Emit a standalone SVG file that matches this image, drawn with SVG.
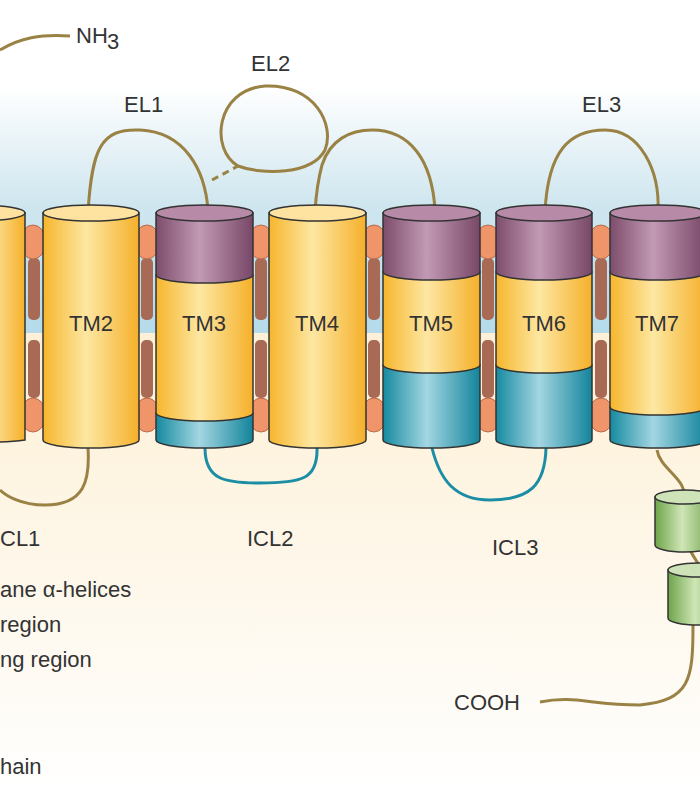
<svg xmlns="http://www.w3.org/2000/svg" width="700" height="792" viewBox="0 0 700 792">
<defs>
<linearGradient id="bg" x1="0" y1="0" x2="0" y2="1">
<stop offset="0" stop-color="#ffffff"/><stop offset="0.11" stop-color="#ffffff"/><stop offset="0.26" stop-color="#cfe6ef"/><stop offset="0.42" stop-color="#b5dbea"/><stop offset="0.42" stop-color="#fdf0d6"/><stop offset="0.75" stop-color="#fef8ec"/><stop offset="1" stop-color="#ffffff"/>
</linearGradient>
<linearGradient id="yel" x1="0" x2="1"><stop offset="0" stop-color="#f6b62c"/><stop offset="0.45" stop-color="#fde7a2"/><stop offset="1" stop-color="#f5b02a"/></linearGradient>
<linearGradient id="pur" x1="0" x2="1"><stop offset="0" stop-color="#7d4d6c"/><stop offset="0.45" stop-color="#c29ab4"/><stop offset="1" stop-color="#774767"/></linearGradient>
<linearGradient id="tea" x1="0" x2="1"><stop offset="0" stop-color="#168aa0"/><stop offset="0.45" stop-color="#a3d6e2"/><stop offset="1" stop-color="#13849b"/></linearGradient>
<linearGradient id="grn" x1="0" x2="1"><stop offset="0" stop-color="#6ea44a"/><stop offset="0.45" stop-color="#cfe6b6"/><stop offset="1" stop-color="#6b9f47"/></linearGradient>
</defs>
<style>
.o{stroke:#333;stroke-width:1.5}
.chain{fill:none;stroke:#9a8245;stroke-width:3}
.ic{fill:none;stroke:#1b8ea5;stroke-width:3}
.t{font-family:"Liberation Sans",Arial,sans-serif;font-size:22px;fill:#333}
.tm{font-family:"Liberation Sans",Arial,sans-serif;font-size:22px;fill:#333;text-anchor:middle}
.blob{fill:#f0956a;stroke:#b86a4a;stroke-width:1}
.bar{fill:#a86a55}
</style>
<rect width="700" height="792" fill="url(#bg)"/>
<g id="bars">
<rect class="bar" x="28" y="258" width="12" height="62" rx="5"/><rect class="bar" x="28" y="340" width="12" height="58" rx="5"/>
<rect class="bar" x="141" y="258" width="12" height="62" rx="5"/><rect class="bar" x="141" y="340" width="12" height="58" rx="5"/>
<rect class="bar" x="255" y="258" width="12" height="62" rx="5"/><rect class="bar" x="255" y="340" width="12" height="58" rx="5"/>
<rect class="bar" x="368" y="258" width="12" height="62" rx="5"/><rect class="bar" x="368" y="340" width="12" height="58" rx="5"/>
<rect class="bar" x="482" y="258" width="12" height="62" rx="5"/><rect class="bar" x="482" y="340" width="12" height="58" rx="5"/>
<rect class="bar" x="595" y="258" width="12" height="62" rx="5"/><rect class="bar" x="595" y="340" width="12" height="58" rx="5"/>
</g>
<g id="blobs">
<ellipse class="blob" cx="33" cy="242" rx="13" ry="17"/><ellipse class="blob" cx="33" cy="415" rx="13" ry="17"/>
<ellipse class="blob" cx="147" cy="242" rx="13" ry="17"/><ellipse class="blob" cx="147" cy="415" rx="13" ry="17"/>
<ellipse class="blob" cx="261" cy="242" rx="13" ry="17"/><ellipse class="blob" cx="261" cy="415" rx="13" ry="17"/>
<ellipse class="blob" cx="374" cy="242" rx="13" ry="17"/><ellipse class="blob" cx="374" cy="415" rx="13" ry="17"/>
<ellipse class="blob" cx="488" cy="242" rx="13" ry="17"/><ellipse class="blob" cx="488" cy="415" rx="13" ry="17"/>
<ellipse class="blob" cx="601" cy="242" rx="13" ry="17"/><ellipse class="blob" cx="601" cy="415" rx="13" ry="17"/>
</g>
<g id="connectors">
<path class="chain" d="M0 50 C20 38 40 34 70 36"/>
<path class="chain" d="M88 212 C92 150 100 128 140 130 C185 132 205 170 208 210"/>
<path d="M212 180 L238 166" fill="none" stroke="#9a8245" stroke-width="3" stroke-dasharray="7 5"/>
<path class="chain" d="M238 166 C210 150 215 90 265 86 C315 84 335 125 325 150 C312 175 262 175 238 166 M322 165 C318 180 316 195 315 212 M322 165 C330 140 350 130 372 130 C410 130 432 160 435 210"/>
<path class="chain" d="M545 212 C548 150 570 130 605 130 C640 130 660 170 658 212"/>
<path class="chain" d="M88 448 C90 480 85 505 45 505 C20 505 5 495 0 490"/>
<path class="ic" d="M205 448 C205 480 225 483 260 483 C300 483 318 480 317 448"/>
<path class="ic" d="M432 448 C440 480 455 500 490 500 C530 500 545 485 546 448"/>
<path class="chain" d="M657 450 C660 470 690 480 683 500"/>
<path class="chain" d="M690 550 C695 560 700 565 700 568"/>
<path class="chain" d="M693 625 C693 680 690 700 640 705 C590 705 575 695 540 702"/>
</g>
<g id="TM1"><path class="o" d="M-40 213 V440 A48 8 0 0 0 25 440 V213 Z" fill="url(#yel)"/><ellipse class="o" cx="-23" cy="213" rx="48" ry="8" fill="#fde2a0"/></g>
<g id="TM2"><path class="o" d="M43 213 V440 A48 8 0 0 0 139 440 V213 Z" fill="url(#yel)"/><ellipse class="o" cx="91" cy="213" rx="48" ry="8" fill="#fde2a0"/><text class="tm" x="91" y="331">TM2</text></g>
<g id="TM3"><path class="o" d="M156 413 V440 A48.5 8 0 0 0 253 440 V413 Z" fill="url(#tea)"/><path class="o" d="M156 275 V413 A48.5 8 0 0 0 253 413 V275 Z" fill="url(#yel)"/><path class="o" d="M156 213 V275 A48.5 8 0 0 0 253 275 V213 Z" fill="url(#pur)"/><ellipse class="o" cx="204.5" cy="213" rx="48.5" ry="8" fill="#b78aa7"/><text class="tm" x="204" y="331">TM3</text></g>
<g id="TM4"><path class="o" d="M269 213 V440 A48.5 8 0 0 0 366 440 V213 Z" fill="url(#yel)"/><ellipse class="o" cx="317.5" cy="213" rx="48.5" ry="8" fill="#fde2a0"/><text class="tm" x="317" y="331">TM4</text></g>
<g id="TM5"><path class="o" d="M383 365 V440 A48.5 8 0 0 0 480 440 V365 Z" fill="url(#tea)"/><path class="o" d="M383 272 V365 A48.5 8 0 0 0 480 365 V272 Z" fill="url(#yel)"/><path class="o" d="M383 213 V272 A48.5 8 0 0 0 480 272 V213 Z" fill="url(#pur)"/><ellipse class="o" cx="431.5" cy="213" rx="48.5" ry="8" fill="#b78aa7"/><text class="tm" x="431" y="331">TM5</text></g>
<g id="TM6"><path class="o" d="M496 365 V440 A48 8 0 0 0 592 440 V365 Z" fill="url(#tea)"/><path class="o" d="M496 272 V365 A48 8 0 0 0 592 365 V272 Z" fill="url(#yel)"/><path class="o" d="M496 213 V272 A48 8 0 0 0 592 272 V213 Z" fill="url(#pur)"/><ellipse class="o" cx="544" cy="213" rx="48" ry="8" fill="#b78aa7"/><text class="tm" x="544" y="331">TM6</text></g>
<g id="TM7"><path class="o" d="M610 407 V440 A48 8 0 0 0 706 440 V407 Z" fill="url(#tea)"/><path class="o" d="M610 272 V407 A48 8 0 0 0 706 407 V272 Z" fill="url(#yel)"/><path class="o" d="M610 213 V272 A48 8 0 0 0 706 272 V213 Z" fill="url(#pur)"/><ellipse class="o" cx="658" cy="213" rx="48" ry="8" fill="#b78aa7"/><text class="tm" x="657" y="331">TM7</text></g>
<g id="H8a"><path class="o" d="M655 497 V545 A30 7 0 0 0 715 545 V497 Z" fill="url(#grn)"/><ellipse class="o" cx="685" cy="497" rx="30" ry="7" fill="#cfe3b8"/></g>
<g id="H8b"><path class="o" d="M668 570 V618 A30 7 0 0 0 728 618 V570 Z" fill="url(#grn)"/><ellipse class="o" cx="698" cy="570" rx="30" ry="7" fill="#cfe3b8"/></g>
<g id="labels">
<text class="t" x="76" y="43">NH</text><text class="t" x="107" y="49" font-size="14">3</text>
<text class="t" x="251" y="71">EL2</text>
<text class="t" x="124" y="112">EL1</text>
<text class="t" x="582" y="112">EL3</text>
<text class="t" x="0" y="546">CL1</text>
<text class="t" x="247" y="546">ICL2</text>
<text class="t" x="492" y="555">ICL3</text>
<text class="t" x="454" y="710">COOH</text>
<text class="t" x="0" y="597">ane α-helices</text>
<text class="t" x="0" y="632">region</text>
<text class="t" x="0" y="667">ng region</text>
<text class="t" x="0" y="774">hain</text>
</g>
</svg>
